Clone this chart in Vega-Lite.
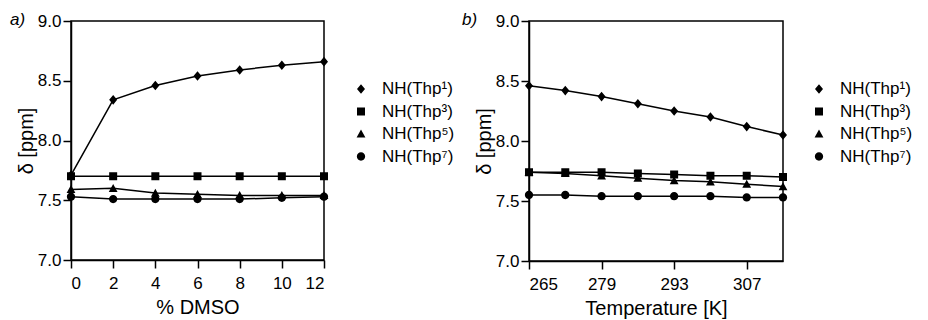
{
  "$schema": "https://vega.github.io/schema/vega-lite/v6.json",
  "padding": {"left": 9, "top": 10, "right": 0, "bottom": 0},
  "background": "white",
  "config": {
    "font": "Liberation Sans",
    "view": {"stroke": "black", "strokeWidth": 1.5},
    "axis": {"grid": false, "domainColor": "black", "domainWidth": 1.5, "tickColor": "black", "tickWidth": 1.5, "tickSize": 8, "labelColor": "black", "labelFontSize": 17, "titleColor": "black", "titleFontSize": 20, "titleFontWeight": "normal", "labelFont": "Liberation Sans", "titleFont": "Liberation Sans"},
    "legend": {"labelFontSize": 17, "labelColor": "black", "labelFont": "Liberation Sans", "symbolSize": 256, "symbolFillColor": "black", "symbolStrokeColor": "black", "symbolStrokeWidth": 1.5, "labelOffset": 12, "rowPadding": 5.5, "padding": 0},
    "title": {"fontSize": 17, "fontWeight": "normal", "fontStyle": "italic", "color": "black", "anchor": "start", "frame": "group", "offset": 0}
  },
  "datasets": {
    "dmso": [
      {"x": 0, "y": 7.71, "series": "NH(Thp¹)"}, {"x": 2, "y": 8.34, "series": "NH(Thp¹)"}, {"x": 4, "y": 8.46, "series": "NH(Thp¹)"}, {"x": 6, "y": 8.54, "series": "NH(Thp¹)"}, {"x": 8, "y": 8.59, "series": "NH(Thp¹)"}, {"x": 10, "y": 8.63, "series": "NH(Thp¹)"}, {"x": 12, "y": 8.66, "series": "NH(Thp¹)"},
      {"x": 0, "y": 7.70, "series": "NH(Thp³)"}, {"x": 2, "y": 7.70, "series": "NH(Thp³)"}, {"x": 4, "y": 7.70, "series": "NH(Thp³)"}, {"x": 6, "y": 7.70, "series": "NH(Thp³)"}, {"x": 8, "y": 7.70, "series": "NH(Thp³)"}, {"x": 10, "y": 7.70, "series": "NH(Thp³)"}, {"x": 12, "y": 7.70, "series": "NH(Thp³)"},
      {"x": 0, "y": 7.59, "series": "NH(Thp⁵)"}, {"x": 2, "y": 7.60, "series": "NH(Thp⁵)"}, {"x": 4, "y": 7.56, "series": "NH(Thp⁵)"}, {"x": 6, "y": 7.55, "series": "NH(Thp⁵)"}, {"x": 8, "y": 7.54, "series": "NH(Thp⁵)"}, {"x": 10, "y": 7.54, "series": "NH(Thp⁵)"}, {"x": 12, "y": 7.54, "series": "NH(Thp⁵)"},
      {"x": 0, "y": 7.53, "series": "NH(Thp⁷)"}, {"x": 2, "y": 7.51, "series": "NH(Thp⁷)"}, {"x": 4, "y": 7.51, "series": "NH(Thp⁷)"}, {"x": 6, "y": 7.51, "series": "NH(Thp⁷)"}, {"x": 8, "y": 7.51, "series": "NH(Thp⁷)"}, {"x": 10, "y": 7.52, "series": "NH(Thp⁷)"}, {"x": 12, "y": 7.53, "series": "NH(Thp⁷)"}
    ],
    "temp": [
      {"x": 265, "y": 8.46, "series": "NH(Thp¹)"}, {"x": 272, "y": 8.42, "series": "NH(Thp¹)"}, {"x": 279, "y": 8.37, "series": "NH(Thp¹)"}, {"x": 286, "y": 8.31, "series": "NH(Thp¹)"}, {"x": 293, "y": 8.25, "series": "NH(Thp¹)"}, {"x": 300, "y": 8.20, "series": "NH(Thp¹)"}, {"x": 307, "y": 8.12, "series": "NH(Thp¹)"}, {"x": 314, "y": 8.05, "series": "NH(Thp¹)"},
      {"x": 265, "y": 7.74, "series": "NH(Thp³)"}, {"x": 272, "y": 7.74, "series": "NH(Thp³)"}, {"x": 279, "y": 7.74, "series": "NH(Thp³)"}, {"x": 286, "y": 7.73, "series": "NH(Thp³)"}, {"x": 293, "y": 7.72, "series": "NH(Thp³)"}, {"x": 300, "y": 7.71, "series": "NH(Thp³)"}, {"x": 307, "y": 7.71, "series": "NH(Thp³)"}, {"x": 314, "y": 7.70, "series": "NH(Thp³)"},
      {"x": 265, "y": 7.74, "series": "NH(Thp⁵)"}, {"x": 272, "y": 7.73, "series": "NH(Thp⁵)"}, {"x": 279, "y": 7.71, "series": "NH(Thp⁵)"}, {"x": 286, "y": 7.69, "series": "NH(Thp⁵)"}, {"x": 293, "y": 7.67, "series": "NH(Thp⁵)"}, {"x": 300, "y": 7.66, "series": "NH(Thp⁵)"}, {"x": 307, "y": 7.64, "series": "NH(Thp⁵)"}, {"x": 314, "y": 7.62, "series": "NH(Thp⁵)"},
      {"x": 265, "y": 7.55, "series": "NH(Thp⁷)"}, {"x": 272, "y": 7.55, "series": "NH(Thp⁷)"}, {"x": 279, "y": 7.54, "series": "NH(Thp⁷)"}, {"x": 286, "y": 7.54, "series": "NH(Thp⁷)"}, {"x": 293, "y": 7.54, "series": "NH(Thp⁷)"}, {"x": 300, "y": 7.54, "series": "NH(Thp⁷)"}, {"x": 307, "y": 7.53, "series": "NH(Thp⁷)"}, {"x": 314, "y": 7.53, "series": "NH(Thp⁷)"}
    ]
  },
  "resolve": {"scale": {"shape": "independent", "x": "independent", "y": "independent"}, "legend": {"shape": "independent"}},
  "spacing": 5,
  "hconcat": [
    {
      "width": 253,
      "height": 239,
      "title": {"text": "a)", "dx": -61, "dy": 21},
      "data": {"name": "dmso"},
      "encoding": {
        "x": {"field": "x", "type": "quantitative", "scale": {"domain": [0, 12], "nice": false}, "axis": {"values": [0, 2, 4, 6, 8, 10, 12], "title": "% DMSO", "labelPadding": 7, "titlePadding": 6}},
        "y": {"field": "y", "type": "quantitative", "scale": {"domain": [7, 9], "nice": false, "zero": false}, "axis": {"values": [7, 7.5, 8, 8.5, 9], "format": ".1f", "title": "δ [ppm]", "labelPadding": 2, "titlePadding": 1}}
      },
      "layer": [
        {"mark": {"type": "line", "color": "black", "strokeWidth": 1.5}, "encoding": {"detail": {"field": "series"}}},
        {
          "mark": {"type": "point", "filled": true, "fill": "black", "opacity": 1, "size": 256, "strokeWidth": 0},
          "encoding": {
            "shape": {"field": "series", "type": "nominal", "sort": ["NH(Thp¹)", "NH(Thp³)", "NH(Thp⁵)", "NH(Thp⁷)"],
              "scale": {"domain": ["NH(Thp¹)", "NH(Thp³)", "NH(Thp⁵)", "NH(Thp⁷)"], "range": ["M-2,0L2,0M0,-0.6L0.5,0L0,0.6L-0.5,0Z", "M-2,0L2,0M-0.5,-0.5L0.5,-0.5L0.5,0.5L-0.5,0.5Z", "M-2,0L2,0M0,-0.55L0.55,0.45L-0.55,0.45Z", "M-2,0L2,0M-0.52,0A0.52,0.52 0 1,1 0.52,0A0.52,0.52 0 1,1 -0.52,0Z"]},
              "legend": {"title": null, "orient": "none", "legendX": 281, "legendY": 59}}
          }
        }
      ]
    },
    {
      "width": 254,
      "height": 240,
      "title": {"text": "b)", "dx": -67, "dy": 21},
      "data": {"name": "temp"},
      "encoding": {
        "x": {"field": "x", "type": "quantitative", "scale": {"domain": [265, 314], "nice": false, "zero": false}, "axis": {"values": [265, 279, 293, 307], "title": "Temperature [K]", "labelPadding": 7, "titlePadding": 6}},
        "y": {"field": "y", "type": "quantitative", "scale": {"domain": [7, 9], "nice": false, "zero": false}, "axis": {"values": [7, 7.5, 8, 8.5, 9], "format": ".1f", "title": "δ [ppm]", "labelPadding": 2, "titlePadding": 1}}
      },
      "layer": [
        {"mark": {"type": "line", "color": "black", "strokeWidth": 1.5}, "encoding": {"detail": {"field": "series"}}},
        {
          "mark": {"type": "point", "filled": true, "fill": "black", "opacity": 1, "size": 256, "strokeWidth": 0},
          "encoding": {
            "shape": {"field": "series", "type": "nominal", "sort": ["NH(Thp¹)", "NH(Thp³)", "NH(Thp⁵)", "NH(Thp⁷)"],
              "scale": {"domain": ["NH(Thp¹)", "NH(Thp³)", "NH(Thp⁵)", "NH(Thp⁷)"], "range": ["M-2,0L2,0M0,-0.6L0.5,0L0,0.6L-0.5,0Z", "M-2,0L2,0M-0.5,-0.5L0.5,-0.5L0.5,0.5L-0.5,0.5Z", "M-2,0L2,0M0,-0.55L0.55,0.45L-0.55,0.45Z", "M-2,0L2,0M-0.52,0A0.52,0.52 0 1,1 0.52,0A0.52,0.52 0 1,1 -0.52,0Z"]},
              "legend": {"title": null, "orient": "none", "legendX": 281, "legendY": 59}}
          }
        }
      ]
    }
  ]
}
